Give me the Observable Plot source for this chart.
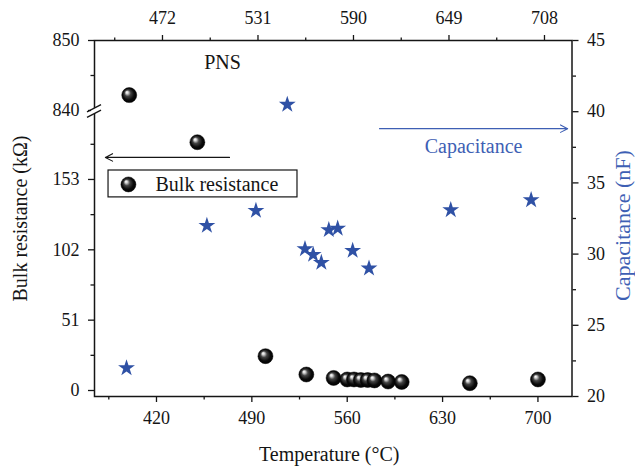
<!DOCTYPE html>
<html><head><meta charset="utf-8">
<script src="https://cdn.jsdelivr.net/npm/d3@7"></script>
<script src="https://cdn.jsdelivr.net/npm/@observablehq/plot@0.6"></script>
<style>
body{margin:0;background:#fff;}
#chart{position:relative;width:635px;height:467px;}
#chart svg{position:absolute;left:0;top:0;background:transparent;overflow:visible;}
</style></head><body><div id="chart"></div>
<script>
// ---- tick labels ----
const temperatureTicks = [420, 490, 560, 630, 700];
const temperatureMinorTicks = [385, 455, 525, 595, 665];
const topTicks = [472, 531, 590, 649, 708];
const topMinorTicks = [442.5, 501.5, 560.5, 619.5, 678.5];
const resistanceTicks = [0, 51, 102, 153, 840, 850];
const resistanceMinorTicks = [25.5, 76.5, 127.5, 178.5, 845];
const capacitanceTicks = [20, 25, 30, 35, 40, 45];
const capacitanceMinorTicks = [22.5, 27.5, 32.5, 37.5, 42.5];

// ---- series ----
const resistanceTemperature = [400, 450, 500, 530, 550, 560, 565, 570, 575, 580, 590, 600, 650, 700];
const resistanceValues = [842.2, 180, 24.9, 11.6, 9.1, 8.0, 8.0, 7.6, 7.6, 7.3, 6.5, 6.2, 5.3, 8.0];
const capacitanceTemperature = [398, 457, 493, 516, 529, 535, 541, 546.5, 553, 564, 576, 636, 695];
const capacitanceValues = [22.0, 32.0, 33.05, 40.5, 30.36, 29.96, 29.4, 31.7, 31.8, 30.24, 29.0, 33.1, 33.8];

// ---- scale domains ----
const temperatureDomain = [374.5, 725];
const topDomain = [430, 725];
const resistanceDomain = [-4.35, 203, 840, 850]; // broken axis
const capacitanceDomain = [20, 45];

// ---- annotations (in data units) ----
const pnsLabel = {x: 468.5, y: 846.9, text: "PNS"};
const resistanceArrow = {x1: 473.6, x2: 382.5, y: 169};
const legendBox = {x1: 384.8, x2: 523.5, y1: 140, y2: 159.5};
const legendBall = {x: 399.4, y: 149.4};
const legendText = {x: 419.3, y: 149.4, text: "Bulk resistance"};
const capArrow = {x1: 583.7, x2: 721.8, y: 38.81};
const capLabel = {x: 652.8, y: 37.55, text: "Capacitance"};

const resistance = resistanceTemperature.map((t, i) => ({t, r: resistanceValues[i]}));
const capacitance = capacitanceTemperature.map((t, i) => ({t, c: capacitanceValues[i]}));

const W = 635, H = 467, mL = 94, mR = 63.5, mT = 40, mB = 71, breakY = 110;
const blue = "#2f51a5", blueText = "#3e5fb4", ink = "#151515";
const font = "'Liberation Serif', 'Times New Roman', serif";
const base = {width: W, height: H, marginLeft: mL, marginRight: mR, marginTop: mT, marginBottom: mB,
  style: {fontFamily: font, fontSize: "18px", color: ink, background: "transparent"}};
const tickText = {fontFamily: font, fontSize: 18};

function breakMark(index, scales, values, dim) {
  const x0 = dim.marginLeft, y0 = scales.y(resistanceDomain[2]) + 1;
  const ns = "http://www.w3.org/2000/svg";
  const g = document.createElementNS(ns, "g");
  const w = 7, h = 3.6, gap = 2.8;
  const poly = document.createElementNS(ns, "polygon");
  poly.setAttribute("points", `${x0 - 3},${y0 + gap + 1.5} ${x0 + 3},${y0 + gap - 1.5} ${x0 + 3},${y0 - gap - 1.5} ${x0 - 3},${y0 - gap + 1.5}`);
  poly.setAttribute("fill", "white");
  g.appendChild(poly);
  for (const o of [gap, -gap]) {
    const l = document.createElementNS(ns, "line");
    l.setAttribute("x1", x0 - w); l.setAttribute("y1", y0 + o + h);
    l.setAttribute("x2", x0 + w); l.setAttribute("y2", y0 + o - h);
    l.setAttribute("stroke", ink); l.setAttribute("stroke-width", 1.3);
    g.appendChild(l);
  }
  return g;
}

const p1 = Plot.plot({...base,
  x: {domain: temperatureDomain},
  y: {type: "linear", domain: resistanceDomain, range: [H - mB, breakY, breakY, mT]},
  marks: [
    Plot.axisX(temperatureTicks, {...tickText, anchor: "bottom", tickSize: 6, tickPadding: 9, strokeWidth: 1.3, label: null}),
    Plot.axisX(temperatureMinorTicks, {anchor: "bottom", tickSize: 3.5, tickFormat: () => "", strokeWidth: 1.3, label: null}),
    Plot.axisY(resistanceTicks, {...tickText, anchor: "left", tickSize: 6, tickPadding: 9, strokeWidth: 1.3, label: null}),
    Plot.axisY(resistanceMinorTicks, {anchor: "left", tickSize: 3.5, tickFormat: () => "", strokeWidth: 1.3, label: null}),
    Plot.frame({strokeWidth: 1.5, stroke: ink}),
    breakMark,
    Plot.text(["Bulk resistance (kΩ)"], {frameAnchor: "left", textAnchor: "middle", lineAnchor: "middle", dx: -74, rotate: -90, fontFamily: font, fontSize: 20, fill: ink}),
    Plot.text(["Temperature (°C)"], {frameAnchor: "bottom", textAnchor: "middle", lineAnchor: "middle", dx: -4, dy: 58, fontFamily: font, fontSize: 20, fill: ink}),
    Plot.text([pnsLabel], {x: "x", y: "y", text: "text", fontFamily: font, fontSize: 20, fill: ink}),
    Plot.arrow([resistanceArrow], {x1: "x1", x2: "x2", y1: "y", y2: "y", stroke: ink, strokeWidth: 1.1, headLength: 11, headAngle: 55}),
    Plot.rect([legendBox], {x1: "x1", x2: "x2", y1: "y1", y2: "y2", fill: "white", stroke: ink, strokeWidth: 1.2}),
    Plot.dot([legendBall], {x: "x", y: "y", r: 7.5, fill: "url(#ball)", stroke: "#000", strokeWidth: 0.5}),
    Plot.text([legendText], {x: "x", y: "y", text: "text", textAnchor: "start", fontFamily: font, fontSize: 20, fill: ink}),
    Plot.dot(resistance, {x: "t", y: "r", r: 7.5, fill: "url(#ball)", stroke: "#000", strokeWidth: 0.5})
  ]
});

const defs = d3.select(p1).insert("defs", ":first-child");
const grad = defs.append("radialGradient").attr("id", "ball")
  .attr("cx", "50%").attr("cy", "50%").attr("r", "55%").attr("fx", "33%").attr("fy", "30%");
[[0, "#ffffff"], [0.14, "#d8d8d8"], [0.38, "#444"], [0.7, "#0a0a0a"], [1, "#000"]]
  .forEach(([o, c]) => grad.append("stop").attr("offset", o).attr("stop-color", c));

const p2 = Plot.plot({...base,
  x: {domain: temperatureDomain, axis: null},
  y: {domain: capacitanceDomain},
  marks: [
    Plot.axisY(capacitanceTicks, {...tickText, anchor: "right", tickSize: 6, tickPadding: 9, strokeWidth: 1.3, label: null}),
    Plot.axisY(capacitanceMinorTicks, {anchor: "right", tickSize: 3.5, tickFormat: () => "", strokeWidth: 1.3, label: null}),
    Plot.text(["Capacitance (nF)"], {frameAnchor: "right", textAnchor: "middle", lineAnchor: "middle", dx: 51, dy: 7, rotate: -90, fontFamily: font, fontSize: 22, fill: blueText}),
    Plot.arrow([capArrow], {x1: "x1", x2: "x2", y1: "y", y2: "y", stroke: blueText, strokeWidth: 1.1, headLength: 11, headAngle: 55}),
    Plot.text([capLabel], {x: "x", y: "y", text: "text", fontFamily: font, fontSize: 20, fill: blueText}),
    Plot.dot(capacitance, {x: "t", y: "c", symbol: "star", r: 5.3, fill: blue, stroke: "none"})
  ]
});

const p3 = Plot.plot({...base,
  x: {domain: topDomain},
  marks: [
    Plot.axisX(topTicks, {...tickText, anchor: "top", tickSize: 6, tickPadding: 11, strokeWidth: 1.3, label: null}),
    Plot.axisX(topMinorTicks, {anchor: "top", tickSize: 3.5, tickFormat: () => "", strokeWidth: 1.3, label: null})
  ]
});

const chart = document.getElementById("chart");
chart.append(p1, p2, p3);
</script></body></html>
